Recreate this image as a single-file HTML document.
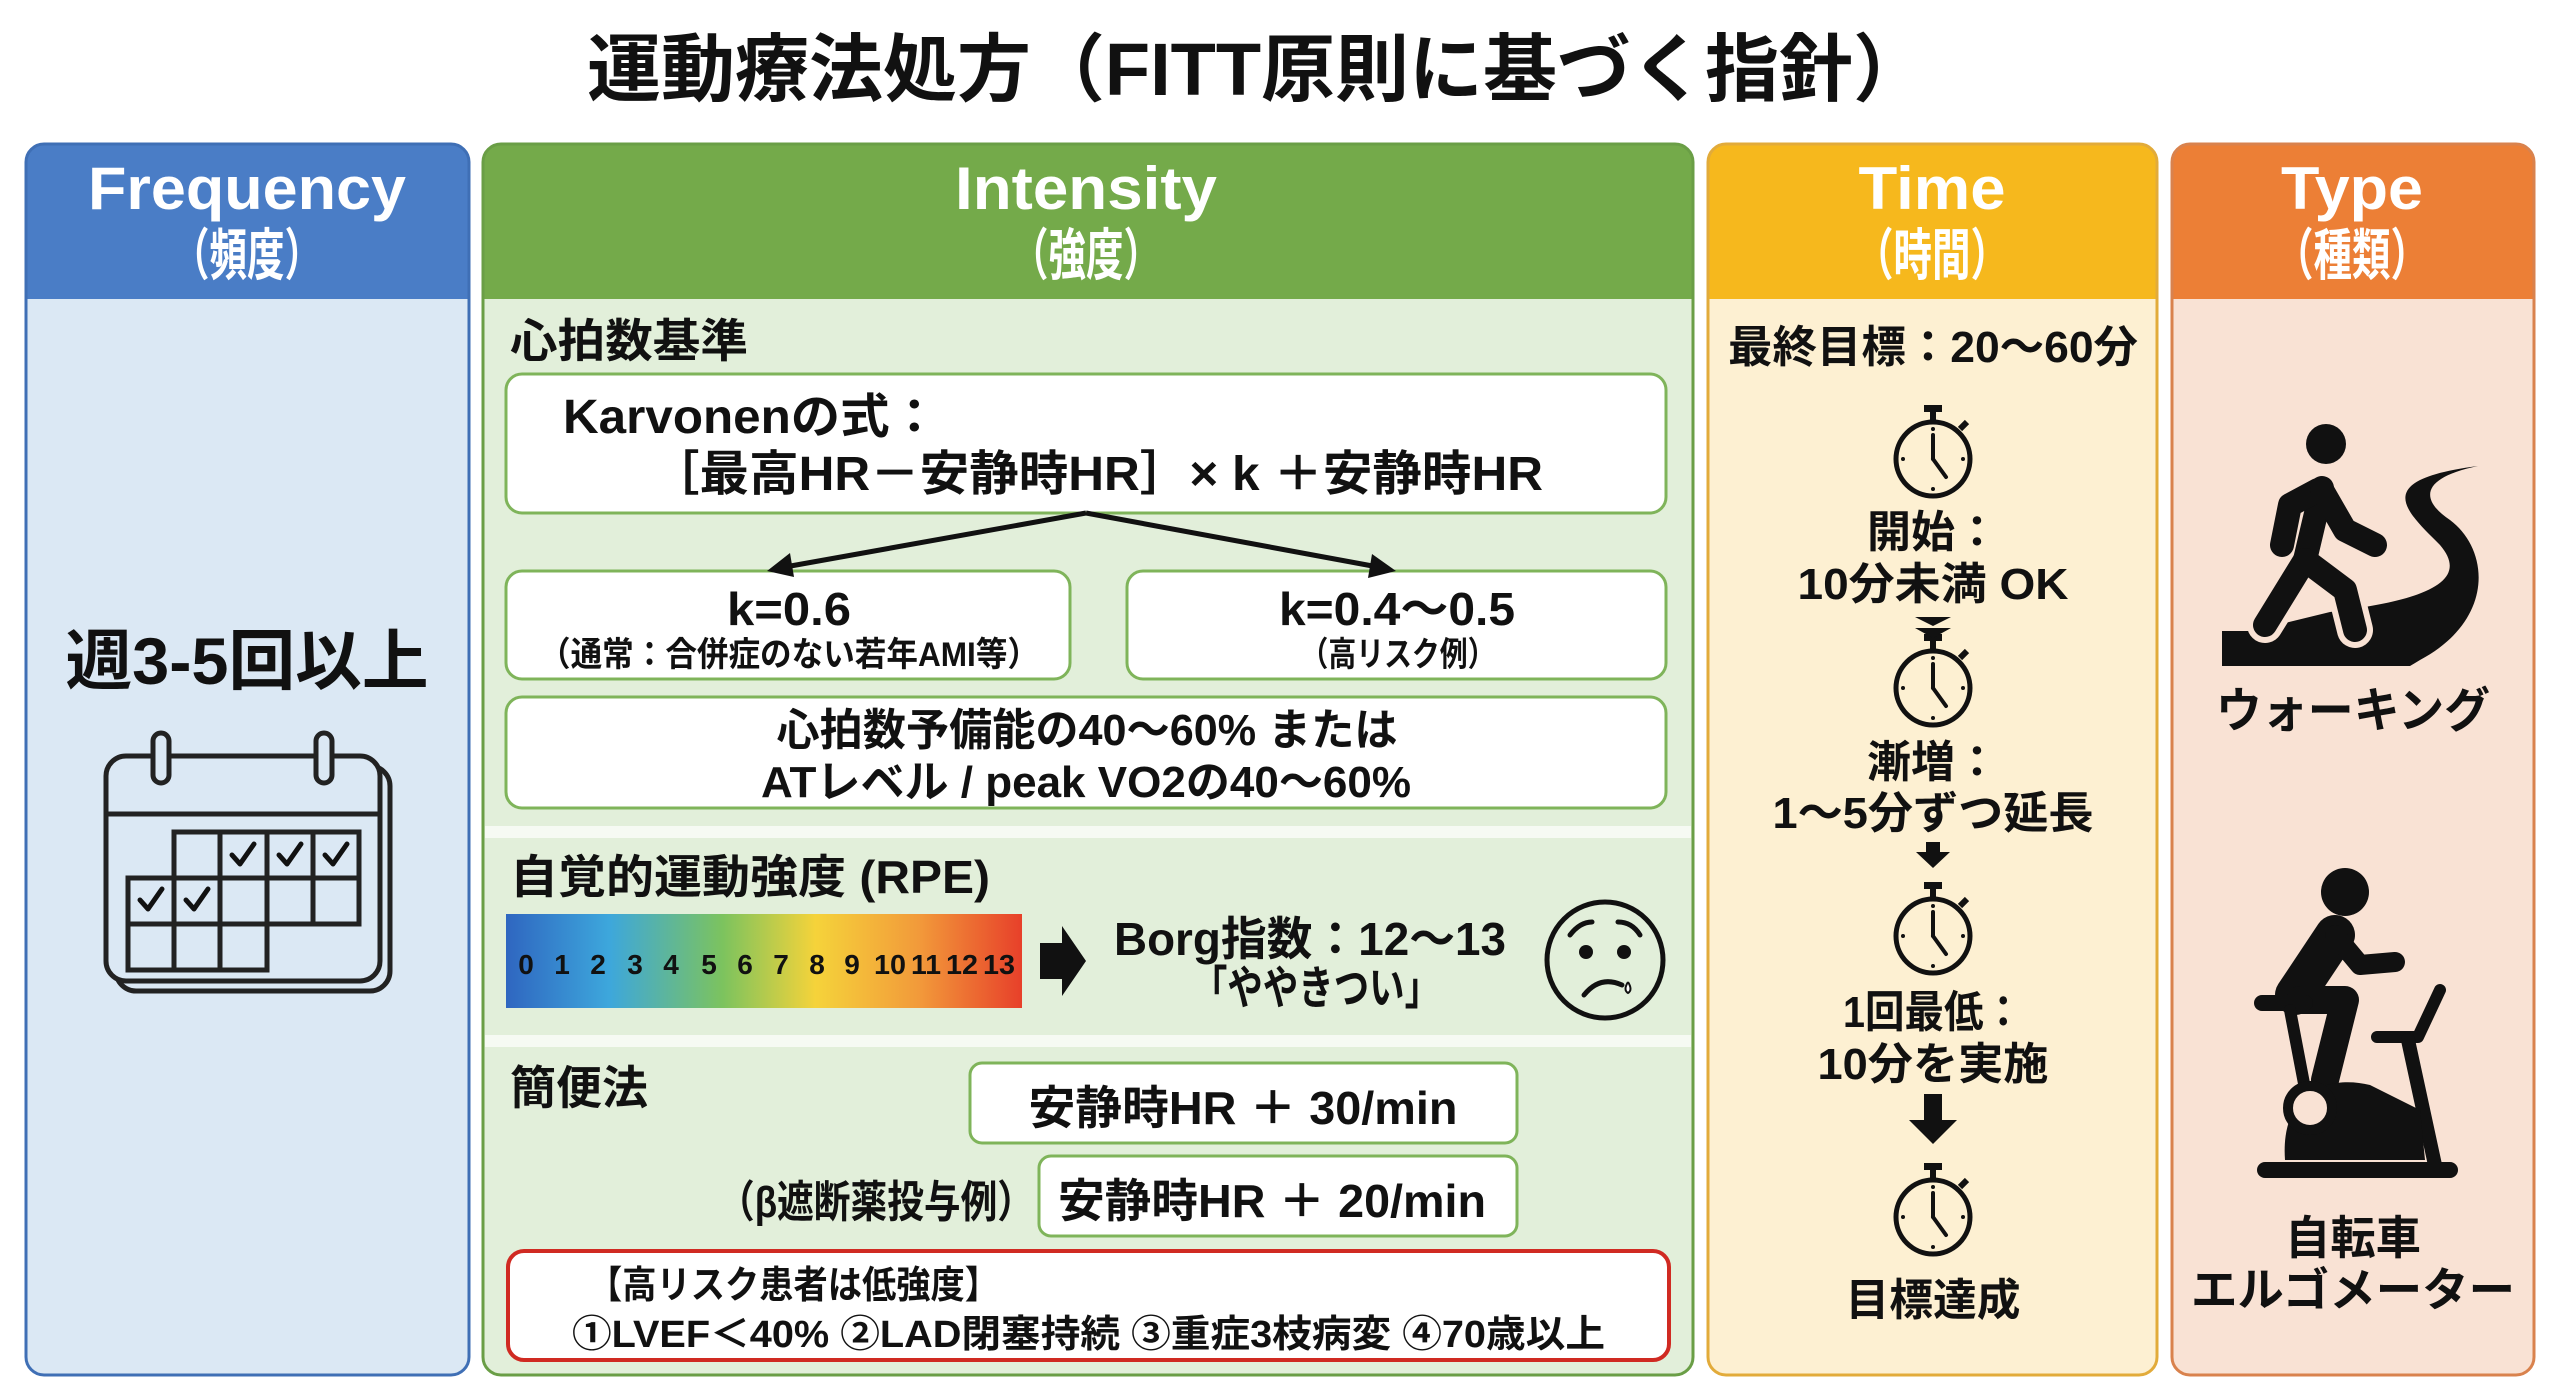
<!DOCTYPE html>
<html><head><meta charset="utf-8"><style>
html,body{margin:0;padding:0;background:#fff;}
svg{display:block;}
text{font-family:"Liberation Sans","Noto Sans CJK JP",sans-serif;font-weight:bold;fill:#111;}
.w{fill:#fff;}
</style></head><body>
<svg width="2560" height="1396" viewBox="0 0 2560 1396" xmlns="http://www.w3.org/2000/svg">
<defs>
<linearGradient id="rpe" x1="0" x2="1" y1="0" y2="0">
<stop offset="0" stop-color="#2f66c0"/><stop offset="0.2" stop-color="#3da7dc"/><stop offset="0.42" stop-color="#7cc35e"/><stop offset="0.6" stop-color="#f5d33a"/><stop offset="0.8" stop-color="#f29a3a"/><stop offset="1" stop-color="#e7402a"/>
</linearGradient>
<g id="sw">
<rect x="-9" y="-54" width="18" height="7" fill="#111"/>
<line x1="0" y1="-48" x2="0" y2="-38" stroke="#111" stroke-width="6"/>
<line x1="27" y1="-30" x2="34" y2="-37" stroke="#111" stroke-width="6"/>
<circle cx="0" cy="0" r="37" fill="none" stroke="#111" stroke-width="5"/>
<line x1="0" y1="0" x2="0" y2="-24" stroke="#111" stroke-width="4" stroke-linecap="round"/>
<line x1="0" y1="0" x2="13" y2="18" stroke="#111" stroke-width="4" stroke-linecap="round"/>
<circle cx="0" cy="-30" r="2" fill="#111"/><circle cx="0" cy="30" r="2" fill="#111"/><circle cx="-30" cy="0" r="2" fill="#111"/><circle cx="30" cy="0" r="2" fill="#111"/>
</g>
</defs>
<rect width="2560" height="1396" fill="#fff"/>
<text x="1257" y="95" font-size="74" text-anchor="middle" textLength="1340" lengthAdjust="spacingAndGlyphs">運動療法処方（FITT原則に基づく指針）</text>

<!-- Frequency -->
<rect x="26" y="144" width="443" height="1231" rx="18" fill="#4a7dc6"/>
<rect x="26" y="299" width="443" height="1076" rx="18" fill="#dbe8f4"/>
<rect x="26" y="299" width="443" height="30" fill="#dbe8f4"/>
<rect x="26" y="144" width="443" height="1231" rx="18" fill="none" stroke="#3f6fb5" stroke-width="3"/>
<text class="w" x="247" y="209" font-size="60" text-anchor="middle" textLength="318" lengthAdjust="spacingAndGlyphs">Frequency</text>
<text class="w" x="247" y="275" font-size="56" text-anchor="middle" textLength="150" lengthAdjust="spacingAndGlyphs">（頻度）</text>
<text x="247" y="684" font-size="66" text-anchor="middle" textLength="363" lengthAdjust="spacingAndGlyphs">週3-5回以上</text>
<g fill="none" stroke="#222" stroke-width="5">
<rect x="116" y="766" width="274" height="225" rx="20"/>
<rect x="106" y="756" width="274" height="225" rx="20" fill="#dbe8f4"/>
<line x1="106" y1="814" x2="380" y2="814"/>
<rect x="153" y="733" width="16" height="50" rx="8" fill="#dbe8f4"/>
<rect x="316" y="733" width="16" height="50" rx="8" fill="#dbe8f4"/>
<path d="M174 832 H359 V924 H128 V878 H174 Z M128 924 V970 H267 V924 M174 878 V970 M220 832 V970 M267 832 V924 M313 832 V924 M174 878 H359"/>
</g>
<g fill="none" stroke="#111" stroke-width="5" stroke-linecap="round" stroke-linejoin="round">
<path d="M232 855 l8 9 l14 -20"/><path d="M279 855 l8 9 l14 -20"/><path d="M325 855 l8 9 l14 -20"/>
<path d="M140 900 l8 9 l14 -20"/><path d="M186 900 l8 9 l14 -20"/>
</g>

<!-- Intensity -->
<rect x="483" y="144" width="1210" height="1231" rx="18" fill="#74aa4a"/>
<rect x="483" y="299" width="1210" height="1076" rx="18" fill="#e2efda"/>
<rect x="483" y="299" width="1210" height="30" fill="#e2efda"/>
<rect x="485" y="826" width="1206" height="12" fill="#f6faf3"/>
<rect x="485" y="1035" width="1206" height="12" fill="#f6faf3"/>
<rect x="483" y="144" width="1210" height="1231" rx="18" fill="none" stroke="#6a9e46" stroke-width="3"/>
<text class="w" x="1086" y="209" font-size="60" text-anchor="middle" textLength="262" lengthAdjust="spacingAndGlyphs">Intensity</text>
<text class="w" x="1086" y="275" font-size="56" text-anchor="middle" textLength="150" lengthAdjust="spacingAndGlyphs">（強度）</text>
<text x="510" y="357" font-size="46" textLength="238" lengthAdjust="spacingAndGlyphs">心拍数基準</text>
<g fill="#fff" stroke="#7fb45a" stroke-width="3">
<rect x="506" y="374" width="1160" height="139" rx="16"/>
<rect x="506" y="571" width="564" height="108" rx="16"/>
<rect x="1127" y="571" width="539" height="108" rx="16"/>
<rect x="506" y="697" width="1160" height="111" rx="16"/>
<rect x="970" y="1063" width="547" height="80" rx="12"/>
<rect x="1039" y="1156" width="478" height="80" rx="12"/>
</g>
<rect x="508" y="1251" width="1161" height="109" rx="16" fill="#fff" stroke="#d02a22" stroke-width="4"/>
<text x="563" y="433" font-size="48" textLength="376" lengthAdjust="spacingAndGlyphs">Karvonenの式：</text>
<text x="650" y="490" font-size="48" textLength="893" lengthAdjust="spacingAndGlyphs">［最高HR－安静時HR］× k ＋安静時HR</text>
<g stroke="#111" stroke-width="5" fill="none"><path d="M1086 513 L785 567"/><path d="M1086 513 L1378 567"/></g>
<path d="M767 571 L790 553 L794 577 Z" fill="#111"/><path d="M1396 571 L1372 554 L1368 578 Z" fill="#111"/>
<text x="789" y="625" font-size="46" text-anchor="middle" textLength="124" lengthAdjust="spacingAndGlyphs">k=0.6</text>
<text x="789" y="666" font-size="34" text-anchor="middle" textLength="500" lengthAdjust="spacingAndGlyphs">（通常：合併症のない若年AMI等）</text>
<text x="1397" y="625" font-size="46" text-anchor="middle" textLength="236" lengthAdjust="spacingAndGlyphs">k=0.4〜0.5</text>
<text x="1398" y="666" font-size="34" text-anchor="middle" textLength="195" lengthAdjust="spacingAndGlyphs">（高リスク例）</text>
<text x="1087" y="745" font-size="44" text-anchor="middle" textLength="621" lengthAdjust="spacingAndGlyphs">心拍数予備能の40〜60% または</text>
<text x="1086" y="797" font-size="44" text-anchor="middle" textLength="650" lengthAdjust="spacingAndGlyphs">ATレベル / peak VO2の40〜60%</text>
<text x="510" y="893" font-size="46" textLength="480" lengthAdjust="spacingAndGlyphs">自覚的運動強度 (RPE)</text>
<rect x="506" y="914" width="516" height="94" fill="url(#rpe)"/>
<g font-size="28" text-anchor="middle">
<text x="526" y="974">0</text><text x="562" y="974">1</text><text x="598" y="974">2</text><text x="635" y="974">3</text><text x="671" y="974">4</text><text x="709" y="974">5</text><text x="745" y="974">6</text><text x="781" y="974">7</text><text x="817" y="974">8</text><text x="852" y="974">9</text><text x="890" y="974" textLength="32" lengthAdjust="spacingAndGlyphs">10</text><text x="926" y="974" textLength="30" lengthAdjust="spacingAndGlyphs">11</text><text x="962" y="974" textLength="32" lengthAdjust="spacingAndGlyphs">12</text><text x="999" y="974" textLength="32" lengthAdjust="spacingAndGlyphs">13</text>
</g>
<path d="M1040 943 H1062 V926 L1086 961 L1062 996 V979 H1040 Z" fill="#111"/>
<text x="1114" y="955" font-size="46" textLength="392" lengthAdjust="spacingAndGlyphs">Borg指数：12〜13</text>
<text x="1192" y="1004" font-size="46" textLength="248" lengthAdjust="spacingAndGlyphs">「ややきつい」</text>
<g fill="none" stroke="#111" stroke-width="5" stroke-linecap="round">
<circle cx="1605" cy="960" r="58"/>
<path d="M1570 935 Q1580 922 1592 922"/><path d="M1618 922 Q1632 922 1640 935"/>
<path d="M1584 995 Q1600 975 1622 985"/>
</g>
<circle cx="1586" cy="952" r="7" fill="#111"/><circle cx="1624" cy="952" r="7" fill="#111"/>
<path d="M1628 982 q-5 8 0 11 q5 -3 0 -11" fill="#fff" stroke="#111" stroke-width="2"/>
<text x="510" y="1104" font-size="46" textLength="138" lengthAdjust="spacingAndGlyphs">簡便法</text>
<text x="1243" y="1124" font-size="46" text-anchor="middle" textLength="429" lengthAdjust="spacingAndGlyphs">安静時HR ＋ 30/min</text>
<text x="718" y="1217" font-size="44" textLength="316" lengthAdjust="spacingAndGlyphs">（β遮断薬投与例）</text>
<text x="1272" y="1217" font-size="46" text-anchor="middle" textLength="428" lengthAdjust="spacingAndGlyphs">安静時HR ＋ 20/min</text>
<text x="588" y="1298" font-size="38" textLength="411" lengthAdjust="spacingAndGlyphs">【高リスク患者は低強度】</text>
<text x="572" y="1347" font-size="38" textLength="1033" lengthAdjust="spacingAndGlyphs">①LVEF＜40% ②LAD閉塞持続 ③重症3枝病変 ④70歳以上</text>

<!-- Time -->
<rect x="1708" y="144" width="449" height="1231" rx="18" fill="#f6b81d"/>
<rect x="1708" y="299" width="449" height="1076" rx="18" fill="#fdf0d2"/>
<rect x="1708" y="299" width="449" height="30" fill="#fdf0d2"/>
<rect x="1708" y="144" width="449" height="1231" rx="18" fill="none" stroke="#e2ab3a" stroke-width="3"/>
<text class="w" x="1932" y="209" font-size="60" text-anchor="middle" textLength="147" lengthAdjust="spacingAndGlyphs">Time</text>
<text class="w" x="1932" y="275" font-size="56" text-anchor="middle" textLength="154" lengthAdjust="spacingAndGlyphs">（時間）</text>
<text x="1933" y="362" font-size="44" text-anchor="middle" textLength="410" lengthAdjust="spacingAndGlyphs">最終目標：20〜60分</text>
<use href="#sw" x="1933" y="459"/>
<use href="#sw" x="1933" y="688"/>
<use href="#sw" x="1933" y="936"/>
<use href="#sw" x="1933" y="1217"/>
<g font-size="44" text-anchor="middle">
<text x="1933" y="547">開始：</text>
<text x="1933" y="599" textLength="271" lengthAdjust="spacingAndGlyphs">10分未満 OK</text>
<text x="1933" y="777">漸増：</text>
<text x="1933" y="828" textLength="321" lengthAdjust="spacingAndGlyphs">1〜5分ずつ延長</text>
<text x="1933" y="1027" textLength="180" lengthAdjust="spacingAndGlyphs">1回最低：</text>
<text x="1933" y="1079" textLength="231" lengthAdjust="spacingAndGlyphs">10分を実施</text>
<text x="1933" y="1315" textLength="175" lengthAdjust="spacingAndGlyphs">目標達成</text>
</g>
<path d="M1915 617 H1951 L1933 626 Z M1915 628 H1951 L1933 638 Z" fill="#111"/>
<path d="M1926 842 H1940 V852 H1950 L1933 868 L1916 852 H1926 Z" fill="#111"/>
<path d="M1924 1094 H1942 V1120 H1957 L1933 1144 L1909 1120 H1924 Z" fill="#111"/>

<!-- Type -->
<rect x="2172" y="144" width="362" height="1231" rx="18" fill="#ec7f36"/>
<rect x="2172" y="299" width="362" height="1076" rx="18" fill="#f9e2d4"/>
<rect x="2172" y="299" width="362" height="30" fill="#f9e2d4"/>
<rect x="2172" y="144" width="362" height="1231" rx="18" fill="none" stroke="#d9824d" stroke-width="3"/>
<text class="w" x="2352" y="209" font-size="60" text-anchor="middle" textLength="142" lengthAdjust="spacingAndGlyphs">Type</text>
<text class="w" x="2352" y="275" font-size="56" text-anchor="middle" textLength="154" lengthAdjust="spacingAndGlyphs">（種類）</text>
<path d="M2222 666 V631 H2252 L2330 612 C2430 600 2470 580 2440 545 C2405 510 2370 480 2478 466 C2420 478 2420 500 2450 520 C2490 550 2495 620 2420 660 L2410 666 Z" fill="#111"/>
<g stroke="#f9e2d4" stroke-width="36" stroke-linecap="round" stroke-linejoin="round" fill="none">
<path d="M2318 490 L2305 560 L2265 625"/><path d="M2305 560 L2345 590 L2355 630"/>
</g>
<g stroke="#111" stroke-width="24" stroke-linecap="round" stroke-linejoin="round" fill="none">
<path d="M2322 488 L2305 560"/>
<path d="M2318 490 L2290 505 L2282 545"/><path d="M2322 490 L2345 530 L2375 545"/>
<path d="M2305 560 L2265 625"/><path d="M2305 560 L2345 590 L2355 630"/>
</g>
<circle cx="2326" cy="444" r="20" fill="#111"/>
<text x="2353" y="727" font-size="48" text-anchor="middle" textLength="274" lengthAdjust="spacingAndGlyphs" font-weight="normal">ウォーキング</text>
<circle cx="2345" cy="892" r="24" fill="#111"/>
<g stroke="#111" stroke-linecap="round" stroke-linejoin="round" fill="none">
<path d="M2335 935 L2295 995" stroke-width="40"/>
<path d="M2335 935 L2360 965 L2395 962" stroke-width="20"/>
<path d="M2300 1000 L2345 1000 L2325 1080" stroke-width="28"/>
<path d="M2262 1003 H2305" stroke-width="16"/>
<path d="M2290 1010 L2310 1115" stroke-width="12"/>
<path d="M2377 1037 H2418 L2440 990" stroke-width="12"/>
<path d="M2408 1040 L2435 1165" stroke-width="14"/>
<path d="M2265 1170 H2450" stroke-width="16"/>
</g>
<path d="M2285 1160 C2280 1090 2330 1075 2370 1085 L2420 1110 L2425 1160 Z" fill="#111"/>
<circle cx="2310" cy="1108" r="22" fill="#f9e2d4" stroke="#111" stroke-width="10"/>
<text x="2353" y="1254" font-size="46" text-anchor="middle" textLength="136" lengthAdjust="spacingAndGlyphs">自転車</text>
<text x="2353" y="1306" font-size="46" text-anchor="middle" textLength="324" lengthAdjust="spacingAndGlyphs">エルゴメーター</text>
</svg>
</body></html>
